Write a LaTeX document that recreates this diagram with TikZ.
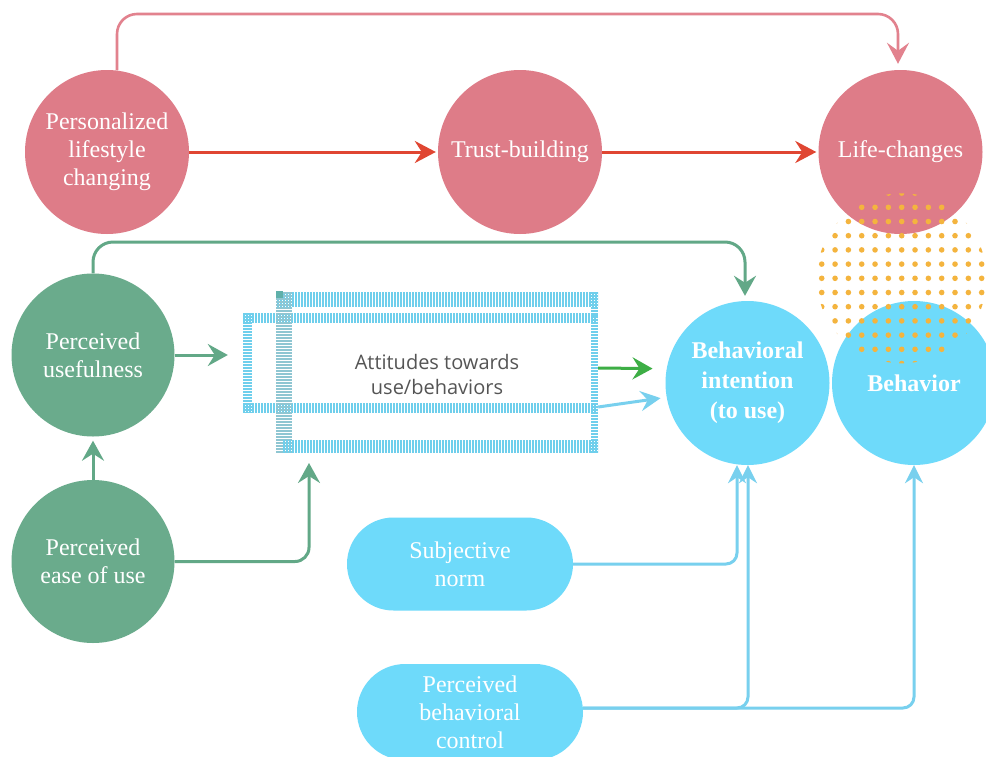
\documentclass[tikz,border=0pt]{standalone}
\usepackage{fontspec}
\setmainfont{Liberation Serif}
\newfontfamily\attfont{Open Sans}
\usetikzlibrary{arrows.meta,shapes.misc}

\definecolor{pinkfill}{HTML}{DE7C88}
\definecolor{pinkline}{HTML}{E2828E}
\definecolor{redline}{HTML}{E04632}
\definecolor{greenfill}{HTML}{6AAB8C}
\definecolor{greenline}{HTML}{62A887}
\definecolor{brightgreen}{HTML}{3DAE45}
\definecolor{bluefill}{HTML}{6EDAFA}
\definecolor{blueline}{HTML}{78D0EE}
\definecolor{dotcol}{HTML}{F4B43E}
\definecolor{hatchblue}{HTML}{6FCFEC}
\definecolor{hatchgray}{HTML}{8FC6D2}
\definecolor{tealsq}{HTML}{5FB0AA}
\definecolor{atttext}{HTML}{555555}

\begin{document}
\begin{tikzpicture}[x=1pt,y=-1pt,
  bubble/.style={circle, minimum size=#1, inner sep=0pt, text=white, align=center,
                 font=\fontsize{24}{28}\selectfont},
  pinkbubble/.style={bubble=164pt, fill=pinkfill},
  greenbubble/.style={bubble=163pt, fill=greenfill},
  bluebubble/.style={bubble=164pt, fill=bluefill, font=\fontsize{24}{30}\selectfont\bfseries},
  pill/.style={rounded rectangle, fill=bluefill, text=white, align=center,
               minimum width=226pt, inner sep=0pt, font=\fontsize{24}{28}\selectfont},
  redarrow/.style={draw=redline, line width=3pt, -{Stealth[length=21pt,width=22pt,inset=7pt]}},
  pinkarrow/.style={draw=pinkline, line width=2.6pt, rounded corners=20pt,
                    -{Stealth[length=21pt,width=22pt,inset=8pt]}},
  greenarrow/.style={draw=greenline, line width=3pt, rounded corners=20pt,
                     -{Stealth[length=20pt,width=22pt,inset=7pt]}},
  brightarrow/.style={draw=brightgreen, line width=3pt, -{Stealth[length=20pt,width=22pt,inset=7pt]}},
  bluearrow/.style={draw=blueline, line width=3pt, rounded corners=11pt,
                    -{Stealth[length=18pt,width=18pt,inset=6pt]}},
  hatchedge/.style={line width=#1, dash pattern=on 1.6pt off 1.4pt, draw=hatchblue},
]
\useasboundingbox (0,0) rectangle (986,756);
\clip (0,0) rectangle (986,756);
\fill[white] (0,0) rectangle (986,756);

% ---- circles of the upper chain
\node[pinkbubble] (pls) at (107,152) {Personalized\\lifestyle\\changing};
\node[pinkbubble] (tb)  at (520,152) {Trust-building};
\node[pinkbubble] (lch) at (900.5,152) {Life-changes};

% ---- technology acceptance part
\node[greenbubble] (pu)  at (93,355) {Perceived\\usefulness};
\node[greenbubble] (peu) at (93,561.5) {Perceived\\ease of use};

\node[bluebubble] (bi)  at (747.5,383) {Behavioral\\intention\\(to use)};
\node[bluebubble] (beh) at (914,383) {Behavior};

% ---- planned behaviour inputs
\node[pill, minimum height=93pt] (sn)  at (460,564) {Subjective\\norm};
\node[pill, minimum height=96pt] (pbc) at (470,712) {Perceived\\behavioral\\control};

% ---- dotted disc laid over the right-hand circles
\begin{scope}
  \clip (901.7,278.3) circle (85);
  \foreach \m in {-6,...,6}
    \foreach \n in {-6,...,6}
      \fill[dotcol] (901.7+13.33*\m, 278.3+14.2*\n) circle (2.8);
\end{scope}

% ---- attitudes box with hatched double frame
\node[minimum width=355pt, minimum height=162pt, inner sep=0pt] (att) at (420.5,372) {};
\draw[hatchedge=10pt] (243,318) -- (597,318);
\draw[hatchedge=9pt]  (247.5,313) -- (247.5,413);
\draw[hatchedge=10pt] (243,408) -- (597,408);
\draw[hatchedge=15pt] (277,299) -- (598,299);
\draw[hatchedge=16pt, draw=hatchgray] (283.5,292) -- (283.5,453);
\draw[hatchedge=13pt] (283,446.5) -- (598,446.5);
\draw[hatchedge=7pt]  (594.5,292) -- (594.5,453);
\fill[tealsq] (276,291) rectangle (283,298);
\fill[hatchblue] (593,313) rectangle (598,318);
\node[font=\attfont\fontsize{20}{25}\selectfont, text=atttext, align=center] (attlabel)
  at (437,374) {Attitudes towards\\use/behaviors};

% ---- connectors
\coordinate (ptop) at (0,14);
\coordinate (gtop) at (0,242);
\coordinate (attin) at (309,453);

\draw[redarrow, shorten >=2pt] (pls.east) -- (tb.west);
\draw[redarrow, shorten >=2pt] (tb.east) -- (lch.west);
\draw[pinkarrow, shorten >=6pt] (pls.83) -- (pls.83 |- ptop) -| ([xshift=-2.5pt]lch.north);

\draw[greenarrow, shorten >=5pt] (pu.north) -- (pu.north |- gtop) -| ([xshift=-2.5pt]bi.north);
\draw[greenarrow, shorten >=15pt] (pu.east) -- (pu.east -| att.west);
\draw[greenarrow, shorten >=4pt] (peu.north) -- (pu.south);
\draw[greenarrow, rounded corners=14pt, shorten >=10pt] (peu.east) -| (attin);

\draw[brightarrow, shorten >=14pt] ([yshift=4pt]att.east) -- (bi.170);
\draw[draw=blueline, line width=3pt, -{Stealth[length=20pt,width=20pt,inset=7pt]}, shorten >=6pt]
  ([yshift=-35pt]att.east) -- (bi.190);

\draw[bluearrow] (sn.east) -| ([xshift=-10.5pt]bi.south);
\draw[bluearrow] ([yshift=4pt]pbc.east) -| ([xshift=0.5pt]bi.south);
\draw[bluearrow] ([yshift=4pt]pbc.east) -| (beh.south);
\end{tikzpicture}
\end{document}
